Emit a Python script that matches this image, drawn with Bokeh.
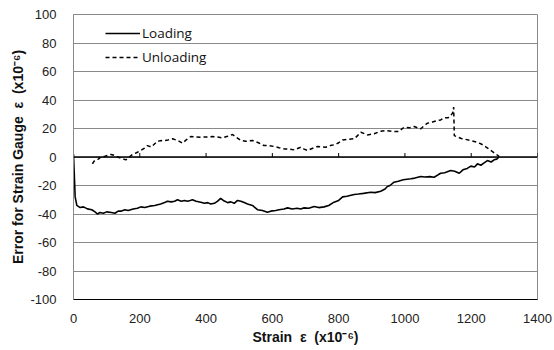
from bokeh.plotting import figure
from bokeh.models import Range1d, FixedTicker, Span, Legend, LegendItem
from bokeh.embed import file_html
from bokeh.resources import INLINE

loading_x = [0, 2, 5, 10, 20, 30, 42, 55, 65, 72,
             80, 90, 100, 114, 125, 135, 143, 155, 165, 180,
             193, 203, 215, 230, 245, 263, 275, 283, 295, 305,
             314, 325, 335, 344, 352, 359, 370, 384, 395, 405,
             414, 425, 435, 444, 452, 465, 475, 485, 495, 505,
             515, 525, 540, 555, 570, 585, 595, 610, 620, 635,
             646, 660, 675, 685, 696, 710, 726, 740, 756, 770,
             786, 800, 812, 825, 847, 860, 875, 897, 910, 927,
             940, 947, 955, 967, 980, 995, 1018, 1030, 1048, 1060,
             1075, 1088, 1100, 1108, 1120, 1138, 1150, 1164, 1175, 1188,
             1199, 1210, 1219, 1229, 1240, 1249, 1260, 1269, 1277, 1284]
loading_y = [2, -10, -28, -34, -35.5, -35, -36.4, -37, -38.5, -40,
             -39, -39.5, -38.5, -39, -39.5, -38, -38, -37, -37.5, -36.5,
             -36, -35, -35.5, -34.5, -34, -33, -32, -31, -31.5, -31,
             -30, -31, -30.5, -31, -30.5, -30, -31, -31.7, -32.5, -32,
             -33, -32.5, -31, -29, -30.5, -32, -31.5, -32.5, -30.5, -31,
             -32, -33, -34, -37, -37.5, -38.7, -38, -37.5, -37, -36.5,
             -35.7, -36.5, -36, -36.5, -35.7, -36, -34.7, -35.5, -35, -34,
             -31.7, -30.5, -28, -27.5, -26.3, -26, -25.5, -24.7, -25, -24,
             -22.5, -20.7, -20, -17.7, -17, -16, -15.3, -14.8, -13.7, -14,
             -13.8, -14.2, -12.5, -11.4, -11, -9.5, -10, -11.4, -9, -8,
             -6.4, -7, -4.8, -5.8, -4, -2.5, -3.5, -2, -1.5, 0]

unloading_x = [57, 62, 67, 75, 82, 95, 113, 125, 133, 145,
               158, 168, 178, 190, 203, 213, 223, 235, 253, 263,
               273, 285, 299, 315, 329, 340, 354, 370, 384, 400,
               419, 435, 449, 465, 480, 490, 505, 520, 540, 558,
               575, 590, 605, 620, 636, 650, 666, 676, 686, 696,
               706, 720, 736, 750, 761, 775, 791, 800, 812, 830,
               847, 857, 867, 887, 907, 925, 942, 960, 983, 990,
               998, 1015, 1028, 1038, 1048, 1058, 1068, 1083, 1098, 1108,
               1118, 1130, 1138, 1144, 1147, 1149, 1170, 1199, 1215, 1229,
               1245, 1259, 1272, 1284]
unloading_y = [-4.8, -3, -2, -1.5, 0, 0.5, 1.8, 1, 0, -1,
               -2, 0, 1.8, 3, 4.6, 6, 8, 7, 11, 11.5,
               11.4, 12, 12.8, 11.5, 9.7, 12, 14.4, 14, 13.9, 14,
               14.4, 14, 13.4, 14.5, 15.8, 14, 11.6, 11, 11.6, 10,
               8, 8, 7.4, 6.5, 5.7, 5.5, 5, 6, 6.9, 5.5,
               4.6, 6, 7.4, 7, 6.9, 8, 8.8, 10, 12, 12.5,
               12.8, 15, 17.4, 15.5, 16.3, 18, 18.6, 18, 17.9, 19.5,
               20.9, 20.5, 21.4, 20.5, 19.8, 22, 23.7, 24.5, 25.6, 26,
               27.5, 27.5, 29, 31, 35, 15, 13, 11.6, 10.5, 9.3,
               7, 4.6, 2.5, 0.5]

x_ticks = [0, 200, 400, 600, 800, 1000, 1200, 1400]
y_ticks = [-100, -80, -60, -40, -20, 0, 20, 40, 60, 80, 100]
zero_ticks = [200, 400, 600, 800, 1000, 1200, 1400]

p = figure(width=554, height=350, output_backend="svg", toolbar_location=None,
           x_range=Range1d(0, 1400), y_range=Range1d(-100, 100),
           min_border_left=73, min_border_right=17, min_border_top=14, min_border_bottom=51)
p.background_fill_color = "white"
p.border_fill_color = "white"
p.outline_line_color = "#8a8a8a"
p.outline_line_width = 1

# axes
p.xaxis.ticker = FixedTicker(ticks=x_ticks)
p.yaxis.ticker = FixedTicker(ticks=y_ticks)
p.yaxis.major_label_overrides = {t: str(t) for t in y_ticks}
for ax in (p.xaxis, p.yaxis):
    ax.major_label_text_font = "Liberation Sans"
    ax.major_label_text_font_size = "13px"
    ax.major_label_text_color = "#222222"
    ax.major_tick_line_color = None
    ax.minor_tick_line_color = None
    ax.axis_label_text_font = "Liberation Sans"
    ax.axis_label_text_font_size = "14px"
    ax.axis_label_text_font_style = "bold"
    ax.axis_label_text_color = "#111111"
p.xaxis.axis_line_color = "black"
p.yaxis.axis_line_color = "#8a8a8a"
p.xaxis.major_label_standoff = 8
p.yaxis.major_label_standoff = 11
p.xaxis.axis_label = "Strain\u00a0 ε\u00a0 (x10⁻⁶)"
p.yaxis.axis_label = "Error for Strain Gauge\u00a0 ε\u00a0 (x10⁻⁶)"
p.xaxis.axis_label_standoff = 3
p.yaxis.axis_label_standoff = 1

p.xgrid.grid_line_color = None
p.ygrid.ticker = FixedTicker(ticks=y_ticks)
p.ygrid.grid_line_color = "#8a8a8a"
p.ygrid.grid_line_width = 1

# zero axis line with small upward ticks
p.add_layout(Span(location=0, dimension="width", line_color="black", line_width=1.5))
p.segment(x0=zero_ticks, y0=[0] * len(zero_ticks), x1=zero_ticks, y1=[2.8] * len(zero_ticks),
          line_color="black", line_width=1)

r_load = p.line(loading_x, loading_y, line_color="black", line_width=1.6)
r_unload = p.line(unloading_x, unloading_y, line_color="black", line_width=1.5, line_dash="4 3")

legend = Legend(items=[LegendItem(label="Loading", renderers=[r_load]),
                       LegendItem(label="Unloading", renderers=[r_unload])],
                location=(32, 232))
legend.background_fill_alpha = 0
legend.border_line_color = None
legend.padding = 0
legend.margin = 0
legend.spacing = 4
legend.glyph_width = 35
legend.glyph_height = 20
legend.label_height = 20
legend.label_standoff = 2
legend.label_text_font = "Open Sans"
legend.label_text_font_size = "13.5px"
legend.label_text_color = "#111111"
p.add_layout(legend)

open("out.html", "w").write(file_html(p, INLINE))
